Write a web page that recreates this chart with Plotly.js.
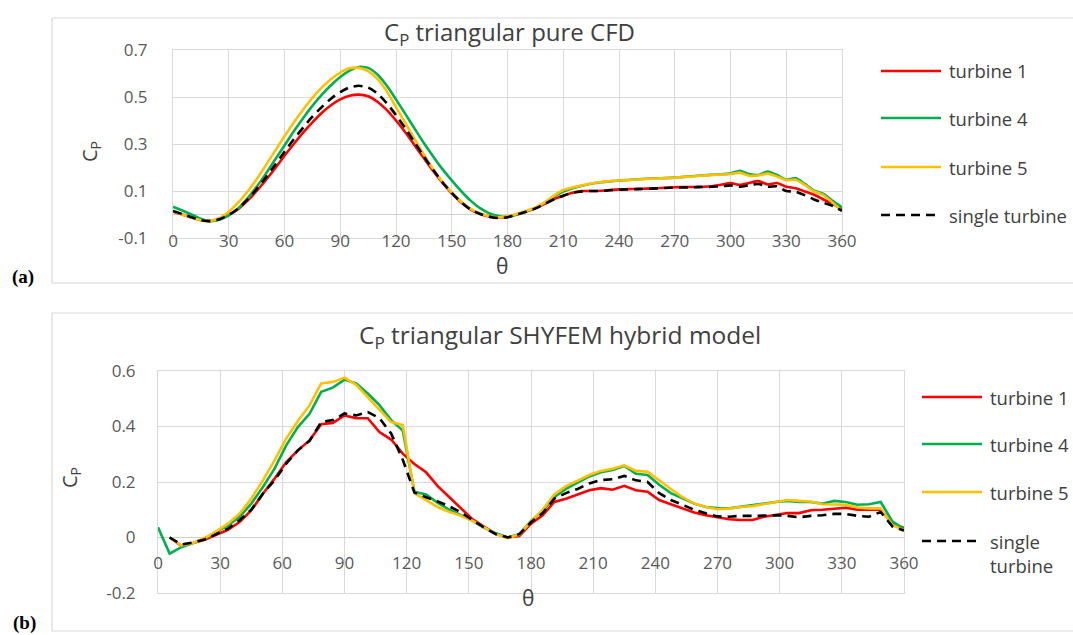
<!DOCTYPE html>
<html>
<head>
<meta charset="utf-8">
<script src="https://cdn.plot.ly/plotly-3.0.1.min.js"></script>
<style>html,body{margin:0;padding:0;background:#fff;}#chart{width:1073px;height:635px;}</style>
</head>
<body>
<div id="chart"></div>
<script>
// ---------- data: (a) pure CFD ----------
const thetaA = [0,5,10,15,20,25,30,35,40,45,50,55,60,65,70,75,80,85,90,95,100,105,110,115,120,125,130,135,140,145,150,155,160,165,170,175,180,185,190,195,200,205,210,215,220,225,230,235,240,245,250,255,260,265,270,275,280,285,290,295,300,305,310,315,320,325,330,335,340,345,350,355,360];
const cfdTurbine1 = [0.012,0.0,-0.013,-0.024,-0.027,-0.02,-0.003,0.022,0.058,0.1,0.147,0.197,0.25,0.3,0.348,0.392,0.432,0.465,0.49,0.505,0.51,0.503,0.48,0.445,0.4,0.35,0.295,0.24,0.185,0.135,0.09,0.052,0.022,0.003,-0.008,-0.013,-0.01,0.0,0.012,0.026,0.045,0.066,0.08,0.093,0.1,0.1,0.101,0.104,0.107,0.108,0.109,0.11,0.112,0.114,0.116,0.117,0.117,0.118,0.12,0.127,0.134,0.126,0.134,0.142,0.128,0.134,0.118,0.112,0.098,0.084,0.064,0.045,0.022];
const cfdTurbine4 = [0.033,0.017,0.0,-0.018,-0.028,-0.022,-0.004,0.026,0.068,0.118,0.174,0.234,0.294,0.354,0.41,0.462,0.509,0.55,0.585,0.612,0.628,0.624,0.596,0.549,0.49,0.428,0.366,0.304,0.247,0.193,0.145,0.1,0.06,0.028,0.006,-0.006,-0.01,0.0,0.013,0.028,0.05,0.076,0.098,0.112,0.122,0.131,0.137,0.141,0.145,0.147,0.15,0.152,0.154,0.155,0.157,0.16,0.163,0.167,0.169,0.171,0.175,0.186,0.172,0.168,0.183,0.168,0.148,0.155,0.13,0.102,0.088,0.058,0.03];
const cfdTurbine5 = [0.015,0.0,-0.013,-0.025,-0.027,-0.015,0.012,0.05,0.097,0.15,0.21,0.272,0.333,0.392,0.446,0.496,0.54,0.576,0.604,0.622,0.624,0.61,0.577,0.525,0.457,0.39,0.322,0.255,0.193,0.139,0.094,0.055,0.025,0.005,-0.007,-0.012,-0.008,0.003,0.015,0.03,0.052,0.08,0.104,0.115,0.124,0.132,0.138,0.142,0.145,0.147,0.149,0.151,0.153,0.155,0.157,0.16,0.162,0.166,0.168,0.17,0.172,0.178,0.165,0.166,0.174,0.162,0.146,0.148,0.126,0.098,0.083,0.05,0.015];
const cfdSingle = [0.015,0.002,-0.012,-0.024,-0.028,-0.02,-0.002,0.025,0.063,0.108,0.158,0.212,0.267,0.32,0.37,0.416,0.457,0.493,0.521,0.541,0.548,0.54,0.515,0.474,0.423,0.367,0.307,0.247,0.19,0.137,0.092,0.053,0.022,0.003,-0.009,-0.015,-0.012,0.0,0.012,0.026,0.045,0.065,0.08,0.092,0.098,0.1,0.1,0.103,0.106,0.107,0.108,0.109,0.111,0.113,0.115,0.115,0.116,0.117,0.118,0.12,0.124,0.118,0.125,0.13,0.118,0.12,0.1,0.097,0.082,0.064,0.05,0.036,0.016];

// ---------- data: (b) SHYFEM hybrid model ----------
const thetaB = [0,5.625,11.25,16.875,22.5,28.125,33.75,39.375,45,50.625,56.25,61.875,67.5,73.125,78.75,84.375,90,95.625,101.25,106.875,112.5,118.125,123.75,129.375,135,140.625,146.25,151.875,157.5,163.125,168.75,174.375,180,185.625,191.25,196.875,202.5,208.125,213.75,219.375,225,230.625,236.25,241.875,247.5,253.125,258.75,264.375,270,275.625,281.25,286.875,292.5,298.125,303.75,309.375,315,320.625,326.25,331.875,337.5,343.125,348.75,354.375,360];
const hybTurbine1 = [null,0.0,-0.03,-0.02,-0.008,0.01,0.028,0.056,0.098,0.158,0.212,0.272,0.314,0.35,0.408,0.413,0.44,0.43,0.43,0.38,0.353,0.302,0.265,0.235,0.185,0.145,0.105,0.065,0.038,0.012,0.0,0.005,0.05,0.08,0.128,0.14,0.155,0.17,0.178,0.172,0.186,0.17,0.165,0.135,0.12,0.105,0.09,0.08,0.072,0.066,0.063,0.063,0.075,0.082,0.088,0.088,0.098,0.1,0.103,0.107,0.1,0.1,0.1,0.05,0.035];
const hybTurbine4 = [0.037,-0.058,-0.035,-0.02,-0.005,0.02,0.044,0.074,0.122,0.182,0.248,0.332,0.398,0.446,0.525,0.54,0.569,0.555,0.519,0.477,0.423,0.385,0.165,0.155,0.125,0.1,0.08,0.06,0.035,0.015,0.0,0.012,0.06,0.095,0.145,0.175,0.198,0.22,0.235,0.243,0.258,0.23,0.225,0.19,0.16,0.14,0.122,0.11,0.106,0.105,0.11,0.115,0.122,0.128,0.132,0.128,0.128,0.122,0.132,0.128,0.118,0.12,0.128,0.058,0.03];
const hybTurbine5 = [null,0.0,-0.028,-0.02,-0.002,0.022,0.05,0.086,0.14,0.206,0.278,0.356,0.42,0.476,0.555,0.56,0.576,0.55,0.506,0.46,0.416,0.405,0.16,0.135,0.11,0.092,0.078,0.06,0.035,0.012,-0.002,0.01,0.058,0.1,0.155,0.185,0.205,0.225,0.24,0.248,0.26,0.24,0.237,0.205,0.175,0.145,0.123,0.11,0.102,0.104,0.11,0.113,0.12,0.128,0.135,0.132,0.13,0.12,0.118,0.118,0.108,0.105,0.105,0.045,0.025];
const hybSingle = [null,0.0,-0.025,-0.018,-0.007,0.012,0.032,0.062,0.1,0.158,0.206,0.266,0.314,0.348,0.416,0.423,0.447,0.44,0.452,0.43,0.375,0.28,0.162,0.145,0.13,0.112,0.09,0.062,0.035,0.012,0.0,0.012,0.055,0.088,0.14,0.16,0.175,0.195,0.207,0.21,0.222,0.206,0.2,0.16,0.135,0.118,0.1,0.087,0.076,0.075,0.078,0.078,0.08,0.08,0.078,0.073,0.078,0.08,0.085,0.085,0.078,0.075,0.092,0.04,0.025];

// ---------- labels ----------
const seriesNames = ['turbine 1','turbine 4','turbine 5','single turbine'];
const legendNamesB = ['turbine 1','turbine 4','turbine 5','single<br>turbine'];
const titleA = 'C<sub>P</sub> triangular pure CFD';
const titleB = 'C<sub>P</sub> triangular SHYFEM hybrid model';
const xTitle = 'θ';
const yTitle = 'C<sub>P</sub>';
const xTickVals = [0,30,60,90,120,150,180,210,240,270,300,330,360];
const yTickValsA = [-0.1,0.1,0.3,0.5,0.7];
const yTickTextA = ['-0.1','0.1','0.3','0.5','0.7'];
const yTickValsB = [-0.2,0,0.2,0.4,0.6];
const yTickTextB = ['-0.2','0','0.2','0.4','0.6'];

// ---------- styles ----------
const colors = ['#ff0000','#00b050','#ffc000','#000000'];
const dashes = ['solid','solid','solid','9px,6px'];
const W = 1073, H = 635;
const px = v => v / W;
const py = v => 1 - v / H;
const FONT = 'Open Sans, sans-serif';
const GRID = '#d9d9d9';

const seriesA = [cfdTurbine1, cfdTurbine4, cfdTurbine5, cfdSingle];
const seriesB = [hybTurbine1, hybTurbine4, hybTurbine5, hybSingle];
const traces = [];
seriesA.forEach((ys, i) => traces.push({
  type: 'scatter', mode: 'lines', x: thetaA, y: ys, name: seriesNames[i],
  xaxis: 'x', yaxis: 'y', showlegend: false, hoverinfo: 'skip',
  line: {color: colors[i], width: 2.6, dash: dashes[i], shape: 'spline', smoothing: 0.6}
}));
seriesB.forEach((ys, i) => traces.push({
  type: 'scatter', mode: 'lines', x: thetaB, y: ys, name: seriesNames[i],
  xaxis: 'x2', yaxis: 'y2', showlegend: false, hoverinfo: 'skip', connectgaps: false,
  line: {color: colors[i], width: 2.6, dash: dashes[i]}
}));

const tickFont = {family: FONT, size: 17, color: '#595959'};
function xAxis(domain, anchor, standoff) {
  return {domain: domain, anchor: anchor, range: [0, 360], tickvals: xTickVals,
    showgrid: true, gridcolor: GRID, gridwidth: 1, zeroline: false,
    showline: true, mirror: true, linecolor: GRID, linewidth: 1,
    ticks: '', tickfont: tickFont, ticklabelstandoff: standoff, fixedrange: true};
}
function yAxis(domain, anchor, range, vals, text, standoff) {
  return {domain: domain, anchor: anchor, range: range, tickvals: vals, ticktext: text,
    showgrid: true, gridcolor: GRID, gridwidth: 1, zeroline: true, zerolinecolor: '#cfcfcf', zerolinewidth: 1,
    showline: true, mirror: true, linecolor: GRID, linewidth: 1,
    ticks: '', tickfont: tickFont, ticklabelstandoff: standoff, fixedrange: true};
}

const annotations = [];
const shapes = [];
function addText(text, x, y, size, opts) {
  annotations.push(Object.assign({text: text, x: px(x), y: py(y), xref: 'paper', yref: 'paper',
    showarrow: false, xanchor: 'center', yanchor: 'middle',
    font: {family: FONT, size: size, color: '#404040'}}, opts || {}));
}
// chart titles
addText(titleA, 509, 33, 24);
addText(titleB, 560, 336, 24.5);
// axis titles
addText(xTitle, 502, 266, 21);
addText(xTitle, 528, 598, 21);
addText(yTitle, 90, 152, 20, {textangle: -90});
addText(yTitle, 70, 477, 20, {textangle: -90});
// panel labels
addText('<b>(a)</b>', 23, 277, 19, {font: {family: 'Liberation Serif, serif', size: 19, color: '#000000'}});
addText('<b>(b)</b>', 24, 623, 19, {font: {family: 'Liberation Serif, serif', size: 19, color: '#000000'}});

// chart frames
shapes.push({type: 'rect', xref: 'paper', yref: 'paper', x0: px(52), x1: px(1090), y0: py(283), y1: py(18),
  line: {color: GRID, width: 1.2}, fillcolor: 'rgba(0,0,0,0)', layer: 'below'});
shapes.push({type: 'rect', xref: 'paper', yref: 'paper', x0: px(52), x1: px(1090), y0: py(631), y1: py(313),
  line: {color: GRID, width: 1.2}, fillcolor: 'rgba(0,0,0,0)', layer: 'below'});

// legends
const legRowsA = [71, 118, 167, 215];
const legRowsB = [397, 444, 492, 541];
seriesNames.forEach((n, i) => {
  shapes.push({type: 'line', xref: 'paper', yref: 'paper', x0: px(881), x1: px(941), y0: py(legRowsA[i]), y1: py(legRowsA[i]),
    line: {color: colors[i], width: 2.6, dash: dashes[i]}});
  addText(n, 947, legRowsA[i], 18.5, {xanchor: 'left'});
  shapes.push({type: 'line', xref: 'paper', yref: 'paper', x0: px(922), x1: px(982), y0: py(legRowsB[i]), y1: py(legRowsB[i]),
    line: {color: colors[i], width: 2.6, dash: dashes[i]}});
  if (i < 3) {
    addText(legendNamesB[i], 988, legRowsB[i], 18.5, {xanchor: 'left'});
  } else {
    addText(legendNamesB[i], 988, legRowsB[i], 18.5, {xanchor: 'left', yanchor: 'top', align: 'left', yshift: 14});
  }
});

const layout = {
  width: W, height: H, margin: {l: 0, r: 0, t: 0, b: 0},
  paper_bgcolor: '#ffffff', plot_bgcolor: '#ffffff', showlegend: false,
  font: {family: FONT, color: '#404040'},
  xaxis: xAxis([px(173), px(842)], 'y', -12),
  yaxis: yAxis([py(238), py(50)], 'x', [-0.1, 0.7], yTickValsA, yTickTextA, 21),
  xaxis2: xAxis([px(158), px(904)], 'y2', -45),
  yaxis2: yAxis([py(593), py(371)], 'x2', [-0.2, 0.6], yTickValsB, yTickTextB, 18),
  annotations: annotations, shapes: shapes
};
Plotly.newPlot('chart', traces, layout, {staticPlot: true, displayModeBar: false});
</script>
</body>
</html>
